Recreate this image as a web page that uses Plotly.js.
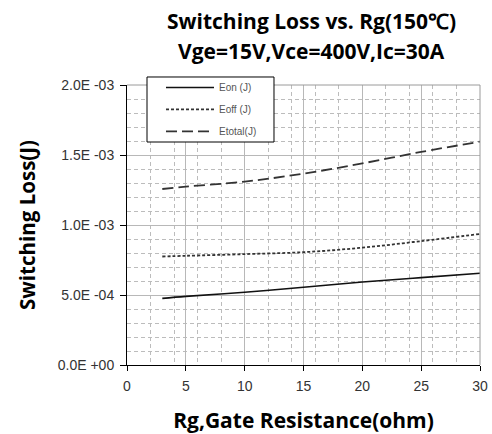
<!DOCTYPE html>
<html>
<head>
<meta charset="utf-8">
<script src="https://cdn.plot.ly/plotly-3.0.1.min.js"></script>
<style>html,body{margin:0;padding:0;background:#fff;}#chart{width:492px;height:434px;}</style>
</head>
<body>
<div id="chart"></div>
<script>
// Data
const rg = [3, 5, 10, 15, 20, 25, 30];
const eon = [0.476e-3, 0.490e-3, 0.520e-3, 0.555e-3, 0.593e-3, 0.624e-3, 0.655e-3];
const eoff = [0.775e-3, 0.780e-3, 0.792e-3, 0.806e-3, 0.838e-3, 0.885e-3, 0.936e-3];
const etotal = [1.257e-3, 1.274e-3, 1.310e-3, 1.367e-3, 1.440e-3, 1.522e-3, 1.595e-3];
const seriesNames = ['Eon (J)', 'Eoff (J)', 'Etotal(J)'];
const yTickVals = [0, 5e-4, 1e-3, 1.5e-3, 2e-3];
const yTickText = ['0.0E +00', '5.0E -04', '1.0E -03', '1.5E -03', '2.0E -03'];
const xTickVals = [0, 5, 10, 15, 20, 25, 30];
const titleLines = ['Switching Loss vs. Rg(150℃)', 'Vge=15V,Vce=400V,Ic=30A'];

const traces = [
  {x: rg, y: eon, name: seriesNames[0], legendgroup: 'a', mode: 'lines', line: {color: '#111', width: 1.6, shape: 'spline'}},
  {x: rg, y: eoff, name: seriesNames[1], legendgroup: 'b', mode: 'lines', line: {color: '#333', width: 1.8, dash: '3px,2px', shape: 'spline'}},
  {x: rg, y: etotal, name: seriesNames[2], legendgroup: 'c', mode: 'lines', line: {color: '#333', width: 1.8, dash: '11px,5px', shape: 'spline'}}
];

const tickFont = {family: 'Liberation Sans, Arial, sans-serif', size: 14, color: '#333'};
const boldFamily = 'Open Sans, sans-serif';

const layout = {
  width: 492, height: 434,
  margin: {l: 127, r: 12, t: 85, b: 69, pad: 0},
  paper_bgcolor: '#fff', plot_bgcolor: '#fff',
  showlegend: true,
  annotations: [
    {text: '<b>' + titleLines[0] + '</b>', xref: 'paper', yref: 'paper', x: 0.524, y: 1.2286,
     xanchor: 'center', yanchor: 'middle', showarrow: false, font: {family: boldFamily, size: 21, color: '#000'}},
    {text: '<b>' + titleLines[1] + '</b>', xref: 'paper', yref: 'paper', x: 0.524, y: 1.1214,
     xanchor: 'center', yanchor: 'middle', showarrow: false, font: {family: boldFamily, size: 21, color: '#000'}}
  ],
  xaxis: {
    range: [0, 30], tickvals: xTickVals, ticktext: xTickVals.map(String),
    showline: true, linecolor: '#000', linewidth: 1,
    ticks: 'outside', ticklen: 5, tickcolor: '#000', ticklabelstandoff: 3,
    showgrid: true, gridcolor: '#b8b8b8', gridwidth: 1,
    minor: {tickmode: 'linear', tick0: 0, dtick: 2, showgrid: true, gridcolor: '#bcbcbc', griddash: '4px,3px', gridwidth: 1},
    zeroline: false, tickfont: tickFont,
    title: {text: '<b>Rg,Gate Resistance(ohm)</b>', font: {family: boldFamily, size: 21, color: '#000'}, standoff: 23}
  },
  yaxis: {
    range: [0, 2e-3], tickvals: yTickVals, ticktext: yTickText,
    showline: true, linecolor: '#000', linewidth: 1,
    ticks: 'outside', ticklen: 6, tickcolor: '#000', ticklabelstandoff: 3,
    showgrid: true, gridcolor: '#b8b8b8', gridwidth: 1,
    minor: {tickmode: 'linear', tick0: 0, dtick: 1e-4, showgrid: true, gridcolor: '#bcbcbc', griddash: '4px,3px', gridwidth: 1},
    zeroline: false, tickfont: tickFont,
    title: {text: '<b>Switching Loss(J)</b>', font: {family: boldFamily, size: 20.5, color: '#000'}, standoff: 16}
  },
  legend: {
    x: 0.0963, xanchor: 'left', y: 1.043, yanchor: 'top',
    bgcolor: 'rgba(0,0,0,0)', borderwidth: 0,
    font: {family: 'Liberation Sans, Arial, sans-serif', size: 10, color: '#555'},
    itemwidth: 48, tracegroupgap: 3
  },
  shapes: [
    {type: 'line', xref: 'paper', yref: 'paper', x0: 1, x1: 1, y0: 0, y1: 1, line: {color: '#9a9a9a', width: 1}},
    {type: 'line', xref: 'paper', yref: 'paper', x0: 0, x1: 1, y0: 1, y1: 1, line: {color: '#9a9a9a', width: 1}},
    {type: 'rect', xref: 'paper', yref: 'paper', x0: 0.0567, x1: 0.4164, y0: 0.7964, y1: 1.0286,
     fillcolor: '#fff', line: {color: '#000', width: 1}, layer: 'above'}
  ]
};

Plotly.newPlot('chart', traces, layout, {displayModeBar: false, staticPlot: true});
</script>
</body>
</html>
